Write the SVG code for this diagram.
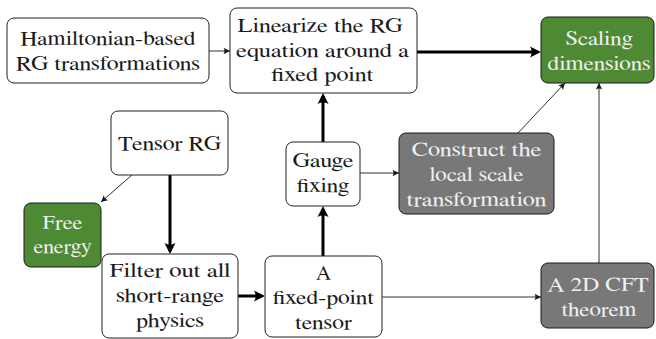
<svg xmlns="http://www.w3.org/2000/svg" width="656" height="339" viewBox="0 0 656 339">
<style>
  .box { fill: #ffffff; stroke: #222222; stroke-width: 1; }
  .green { fill: #4e8a33; stroke: #1a1a1a; stroke-width: 1; }
  .gray { fill: #787878; stroke: #1a1a1a; stroke-width: 1; }
  .lbl { font-family: FreeSerif, 'Liberation Serif', 'Noto Serif CJK SC', serif; font-size: 20px; text-anchor: middle; }
  .dark { fill: #1a1a1a; }
  .light { fill: #f0f0f0; }
  .thin { stroke: #1a1a1a; stroke-width: 0.9; fill: none; marker-end: url(#ah-thin); }
  .thick { stroke: #000000; stroke-width: 3; fill: none; marker-end: url(#ah-thick); }
</style>
<defs>
  <marker id="ah-thin" markerUnits="userSpaceOnUse" viewBox="-8 -4 9 8" refX="0" refY="0" markerWidth="9" markerHeight="8" orient="auto">
    <path d="M0,0 L-6.5,-3.2 Q-4.5,0 -6.5,3.2 Z" fill="#1a1a1a"/>
  </marker>
  <marker id="ah-thick" markerUnits="userSpaceOnUse" viewBox="-14 -7 15 14" refX="-3" refY="0" markerWidth="15" markerHeight="14" orient="auto">
    <path d="M0,0 L-11,-5.5 Q-7.5,0 -11,5.5 Z" fill="#000000"/>
  </marker>
</defs>

<g id="connectors">
  <line class="thin" x1="209" y1="51" x2="230" y2="51"/>
  <line class="thick" x1="417" y1="52" x2="538" y2="52"/>
  <line class="thick" x1="323" y1="142" x2="323" y2="96"/>
  <line class="thin" x1="518" y1="133" x2="565" y2="83"/>
  <line class="thin" x1="599" y1="263" x2="599" y2="83"/>
  <line class="thin" x1="132" y1="175" x2="101" y2="202"/>
  <line class="thick" x1="170" y1="175" x2="170" y2="251"/>
  <line class="thick" x1="238" y1="296" x2="262" y2="296"/>
  <line class="thick" x1="323" y1="256" x2="323" y2="209"/>
  <line class="thin" x1="360" y1="173" x2="399" y2="173"/>
  <line class="thin" x1="382" y1="297" x2="541" y2="297"/>
</g>

<g id="hamiltonian">
  <rect class="box" x="7" y="18" width="202" height="65" rx="7"/>
  <text class="lbl dark" x="108" y="45" textLength="175" lengthAdjust="spacingAndGlyphs">Hamiltonian-based</text>
  <text class="lbl dark" x="108" y="70" textLength="184" lengthAdjust="spacingAndGlyphs">RG transformations</text>
</g>

<g id="linearize">
  <rect class="box" x="230" y="8" width="187" height="85" rx="7"/>
  <text class="lbl dark" x="320" y="32" textLength="165" lengthAdjust="spacingAndGlyphs">Linearize the RG</text>
  <text class="lbl dark" x="322.5" y="56.5" textLength="173" lengthAdjust="spacingAndGlyphs">equation around a</text>
  <text class="lbl dark" x="322.5" y="81" textLength="102" lengthAdjust="spacingAndGlyphs">fixed point</text>
</g>

<g id="scaling">
  <rect class="green" x="541" y="17" width="113" height="66" rx="7"/>
  <text class="lbl light" x="599" y="45" textLength="67" lengthAdjust="spacingAndGlyphs">Scaling</text>
  <text class="lbl light" x="599" y="70" textLength="103" lengthAdjust="spacingAndGlyphs">dimensions</text>
</g>

<g id="tensor-rg">
  <rect class="box" x="111" y="111" width="117" height="64" rx="7"/>
  <text class="lbl dark" x="169.5" y="150" textLength="103" lengthAdjust="spacingAndGlyphs">Tensor RG</text>
</g>

<g id="gauge">
  <rect class="box" x="286" y="142" width="74" height="64" rx="7"/>
  <text class="lbl dark" x="323" y="167" textLength="61" lengthAdjust="spacingAndGlyphs">Gauge</text>
  <text class="lbl dark" x="323" y="192" textLength="52" lengthAdjust="spacingAndGlyphs">fixing</text>
</g>

<g id="construct">
  <rect class="gray" x="399" y="133" width="155" height="81" rx="7"/>
  <text class="lbl light" x="476.5" y="155.5" textLength="130" lengthAdjust="spacingAndGlyphs">Construct the</text>
  <text class="lbl light" x="476.5" y="181" textLength="94" lengthAdjust="spacingAndGlyphs">local scale</text>
  <text class="lbl light" x="476.5" y="206" textLength="140" lengthAdjust="spacingAndGlyphs">transformation</text>
</g>

<g id="free-energy">
  <rect class="green" x="24" y="203" width="77" height="64" rx="7"/>
  <text class="lbl light" x="62.5" y="228.5" textLength="40" lengthAdjust="spacingAndGlyphs">Free</text>
  <text class="lbl light" x="62.5" y="253" textLength="58" lengthAdjust="spacingAndGlyphs">energy</text>
</g>

<g id="filter">
  <rect class="box" x="102" y="254" width="136" height="84" rx="7"/>
  <text class="lbl dark" x="170" y="277" textLength="121" lengthAdjust="spacingAndGlyphs">Filter out all</text>
  <text class="lbl dark" x="170" y="302" textLength="108" lengthAdjust="spacingAndGlyphs">short-range</text>
  <text class="lbl dark" x="170" y="327" textLength="68" lengthAdjust="spacingAndGlyphs">physics</text>
</g>

<g id="fixed-point">
  <rect class="box" x="265" y="256" width="117" height="81" rx="7"/>
  <text class="lbl dark" x="323.5" y="279" textLength="15" lengthAdjust="spacingAndGlyphs">A</text>
  <text class="lbl dark" x="323.5" y="304" textLength="101" lengthAdjust="spacingAndGlyphs">fixed-point</text>
  <text class="lbl dark" x="323.5" y="329" textLength="57" lengthAdjust="spacingAndGlyphs">tensor</text>
</g>

<g id="cft">
  <rect class="gray" x="541" y="263" width="113" height="65" rx="7"/>
  <text class="lbl light" x="598" y="291" textLength="101" lengthAdjust="spacingAndGlyphs">A 2D CFT</text>
  <text class="lbl light" x="599" y="316" textLength="75" lengthAdjust="spacingAndGlyphs">theorem</text>
</g>
</svg>
